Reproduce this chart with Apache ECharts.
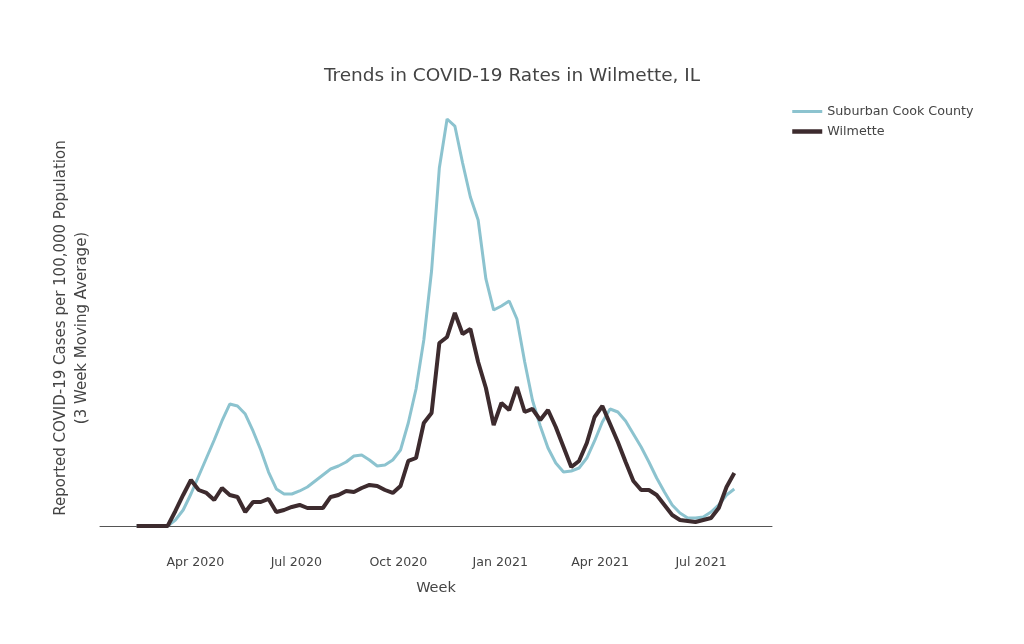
<!DOCTYPE html>
<html>
<head>
<meta charset="utf-8">
<script src="https://cdn.jsdelivr.net/npm/echarts@6/dist/echarts.min.js"></script>
<style>
html,body{margin:0;padding:0;background:#fff;}
#chart{width:1024px;height:644px;}
</style>
</head>
<body>
<div id="chart"></div>
<script>
var weeks = ['2020-02-08','2020-02-15','2020-02-22','2020-02-29','2020-03-07','2020-03-14','2020-03-21','2020-03-28',
'2020-04-04','2020-04-11','2020-04-18','2020-04-25','2020-05-02','2020-05-09','2020-05-16','2020-05-23','2020-05-30',
'2020-06-06','2020-06-13','2020-06-20','2020-06-27','2020-07-04','2020-07-11','2020-07-18','2020-07-25',
'2020-08-01','2020-08-08','2020-08-15','2020-08-22','2020-08-29','2020-09-05','2020-09-12','2020-09-19','2020-09-26',
'2020-10-03','2020-10-10','2020-10-17','2020-10-24','2020-10-31','2020-11-07','2020-11-14','2020-11-21','2020-11-28',
'2020-12-05','2020-12-12','2020-12-19','2020-12-26','2021-01-02','2021-01-09','2021-01-16','2021-01-23','2021-01-30',
'2021-02-06','2021-02-13','2021-02-20','2021-02-27','2021-03-06','2021-03-13','2021-03-20','2021-03-27',
'2021-04-03','2021-04-10','2021-04-17','2021-04-24','2021-05-01','2021-05-08','2021-05-15','2021-05-22','2021-05-29',
'2021-06-05','2021-06-12','2021-06-19','2021-06-26','2021-07-03','2021-07-10','2021-07-17','2021-07-24','2021-07-31'];

var suburbanCook = [0,0,0,0,0,10.5,28,56,87.5,119,150.5,183.8,213.5,210,196,166.3,133,94.5,64.8,56,56,61.3,68.3,78.8,89.3,
99.8,105,112,122.5,124.3,115.5,105,106.8,115.5,133,180.3,239.8,325.5,446.3,626.5,712.3,700,635.3,575.8,535.5,432.3,378,
385,393.8,362.3,287,220,175,136.5,110.3,94.5,96.3,101.5,119,148.8,182,204.8,199.5,183.8,161,138.3,112,84,59.5,36.8,
22.8,14,14,15.8,24.5,36.8,54.3,64.8];

var wilmette = [0,0,0,0,0,26.3,54.3,80.5,63,57.8,45.5,66.5,54.3,50.8,24.5,42,42,47.3,24.5,28,33.3,36.8,31.5,31.5,31.5,
50.8,54.3,61.3,59.5,66.5,71.8,70,63,57.8,70,113.8,119,180.3,197.8,320.3,330.8,372.8,336,344.8,287,241.5,176.8,215.3,
203,243.3,199.5,204.8,185.5,203,173.3,138.3,103.3,113.8,145.3,190.8,210,178.5,147,112,78.8,63,63,54.3,36.8,19.3,10.5,
8.8,7,10.5,14,31.5,68.3,92.8];

var tickDates = ['2020-04-01','2020-07-01','2020-10-01','2021-01-01','2021-04-01','2021-07-01'];
var monthNames = ['Jan','Feb','Mar','Apr','May','Jun','Jul','Aug','Sep','Oct','Nov','Dec'];

function ts(s){ var p = s.split('-'); return Date.UTC(+p[0], +p[1]-1, +p[2]); }
function pairs(vals){ return weeks.map(function(d,i){ return [ts(d), vals[i]]; }); }

var font = 'DejaVu Sans, Verdana, sans-serif';
var chart = echarts.init(document.getElementById('chart'));
chart.setOption({
  animation: false,
  backgroundColor: '#fff',
  title: {
    text: 'Trends in COVID-19 Rates in Wilmette, IL',
    left: 'center', top: 62,
    textStyle: {fontFamily: font, fontSize: 18.5, fontWeight: 'normal', color: '#444'}
  },
  legend: {
    orient: 'vertical', left: 785, top: 100, itemWidth: 30, itemHeight: 14, itemGap: 7,
    textStyle: {fontFamily: font, fontSize: 12.7, color: '#444'},
    itemStyle: {opacity: 0},
    data: [
      {name: 'Suburban Cook County', lineStyle: {width: 3, color: '#8cc3cf'}},
      {name: 'Wilmette', lineStyle: {width: 4.5, color: '#3d2b2e'}}
    ]
  },
  grid: {left: 100, right: 252, top: 119, bottom: 118},
  xAxis: {
    type: 'value',
    min: ts('2020-01-06'), max: ts('2021-09-03'),
    name: 'Week', nameLocation: 'middle', nameGap: 55,
    nameTextStyle: {fontFamily: font, fontSize: 14.5, color: '#444'},
    axisLine: {show: true, onZero: false, lineStyle: {color: '#555', width: 1}},
    axisTick: {show: false},
    splitLine: {show: false},
    axisLabel: {
      customValues: tickDates.map(ts),
      margin: 30,
      fontFamily: font, fontSize: 12.6, color: '#444',
      formatter: function(v){ var d = new Date(v); return monthNames[d.getUTCMonth()] + ' ' + d.getUTCFullYear(); }
    }
  },
  yAxis: {
    type: 'value', min: 0, max: 712.3,
    axisLine: {show: false}, axisTick: {show: false}, axisLabel: {show: false}, splitLine: {show: false}
  },
  graphic: [{
    type: 'text', x: 72, y: 328, rotation: Math.PI/2,
    style: {
      text: 'Reported COVID-19 Cases per 100,000 Population\n(3 Week Moving Average)',
      fontFamily: font, fontSize: 15, fill: '#444', align: 'center', verticalAlign: 'middle', lineHeight: 21
    }
  }],
  series: [
    {name: 'Suburban Cook County', type: 'line', data: pairs(suburbanCook), symbol: 'none', clip: false,
     lineStyle: {color: '#8cc3cf', width: 3}, itemStyle: {color: '#8cc3cf'}, z: 2},
    {name: 'Wilmette', type: 'line', data: pairs(wilmette), symbol: 'none', clip: false,
     lineStyle: {color: '#3d2b2e', width: 4}, itemStyle: {color: '#3d2b2e'}, z: 3}
  ]
});
</script>
</body>
</html>
